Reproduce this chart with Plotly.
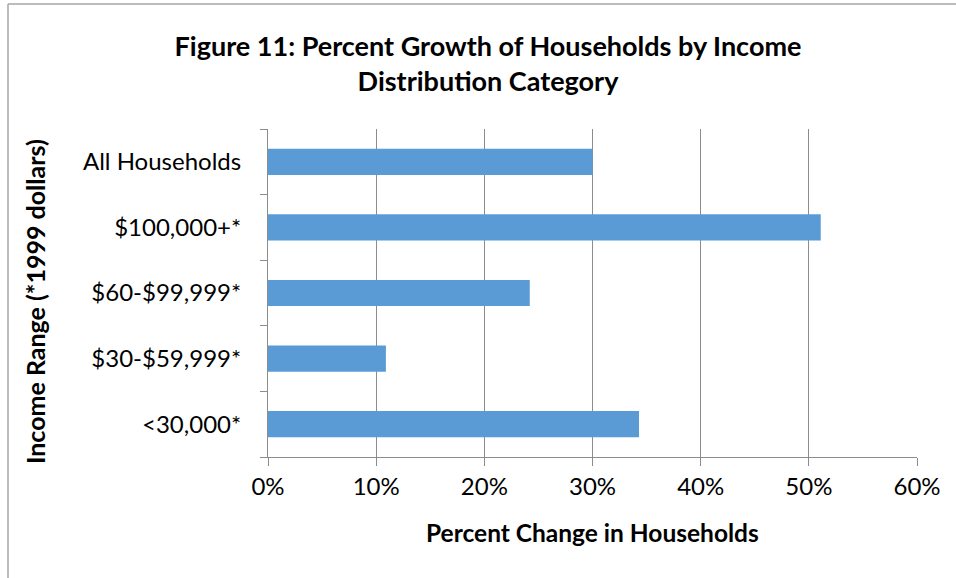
import plotly.graph_objects as go

categories = ["All Households", "$100,000+*", "$60-$99,999*", "$30-$59,999*", "<30,000*"]
values = [30.0, 51.1, 24.2, 10.9, 34.3]
x_ticks = [0, 10, 20, 30, 40, 50, 60]
x_tick_labels = ["0%", "10%", "20%", "30%", "40%", "50%", "60%"]

FONT = "Lato, Carlito, Calibri, sans-serif"

fig = go.Figure(go.Bar(
    y=categories, x=values, orientation="h",
    marker=dict(color="#5B9BD5", line=dict(width=0)),
    width=0.4,
))

W, H = 956, 578
L, R, T, B = 268, 39, 129, 121
PW, PH = W - L - R, H - T - B

fig.update_layout(
    width=W, height=H,
    margin=dict(l=L, r=R, t=T, b=B, autoexpand=False),
    paper_bgcolor="white", plot_bgcolor="white",
    font=dict(family=FONT, color="black", size=24),
    title=dict(
        text="<b>Figure 11: Percent Growth of Households by Income<br>Distribution Category</b>",
        x=488 / W, xanchor="center", y=1 - 55.5 / H, yanchor="middle",
        font=dict(family=FONT, size=27, color="black"),
    ),
    showlegend=False,
    bargap=0.6,
)

fig.update_xaxes(
    range=[0, 60], tickvals=x_ticks, ticktext=x_tick_labels,
    showgrid=True, gridcolor="#8c8c8c", gridwidth=1,
    showline=True, linecolor="#8c8c8c", linewidth=1,
    ticks="outside", ticklen=8, tickcolor="#8c8c8c",
    tickfont=dict(size=24),
    zeroline=False, automargin=False,
)
fig.update_yaxes(
    categoryorder="array", categoryarray=categories[::-1],
    showline=True, linecolor="#8c8c8c", linewidth=1,
    ticks="outside", ticklen=7, tickcolor="#8c8c8c",
    tickson="boundaries",
    showgrid=False, automargin=False,
    tickfont=dict(size=24),
    ticklabelstandoff=21,
)

base_y = H - B  # y of x-axis line
base_x = L      # x of y-axis line

fig.add_annotation(
    text="<b>Percent Change in Households</b>", showarrow=False,
    xref="paper", yref="paper", x=(592 - base_x) / PW, y=(base_y - 532) / PH,
    xanchor="center", yanchor="middle", font=dict(size=24.5),
)
fig.add_annotation(
    text="<b>Income Range (*1999 dollars)</b>", showarrow=False, textangle=-90,
    xref="paper", yref="paper", x=(35 - base_x) / PW, y=(base_y - 302) / PH,
    xanchor="center", yanchor="middle", font=dict(size=25),
)

# outer chart border (top and left edges visible in the frame)
bx0, by0 = (8 - base_x) / PW, (base_y - 4) / PH
fig.add_shape(type="line", xref="paper", yref="paper",
              x0=bx0, x1=(W - base_x) / PW, y0=by0, y1=by0,
              line=dict(color="#a6a6a6", width=1.5), layer="below")
fig.add_shape(type="line", xref="paper", yref="paper",
              x0=bx0, x1=bx0, y0=by0, y1=-(H - base_y) / PH,
              line=dict(color="#a6a6a6", width=1.5), layer="below")

fig.write_html("out.html", config={"displayModeBar": False},
               post_script="document.body.style.margin='0';")
